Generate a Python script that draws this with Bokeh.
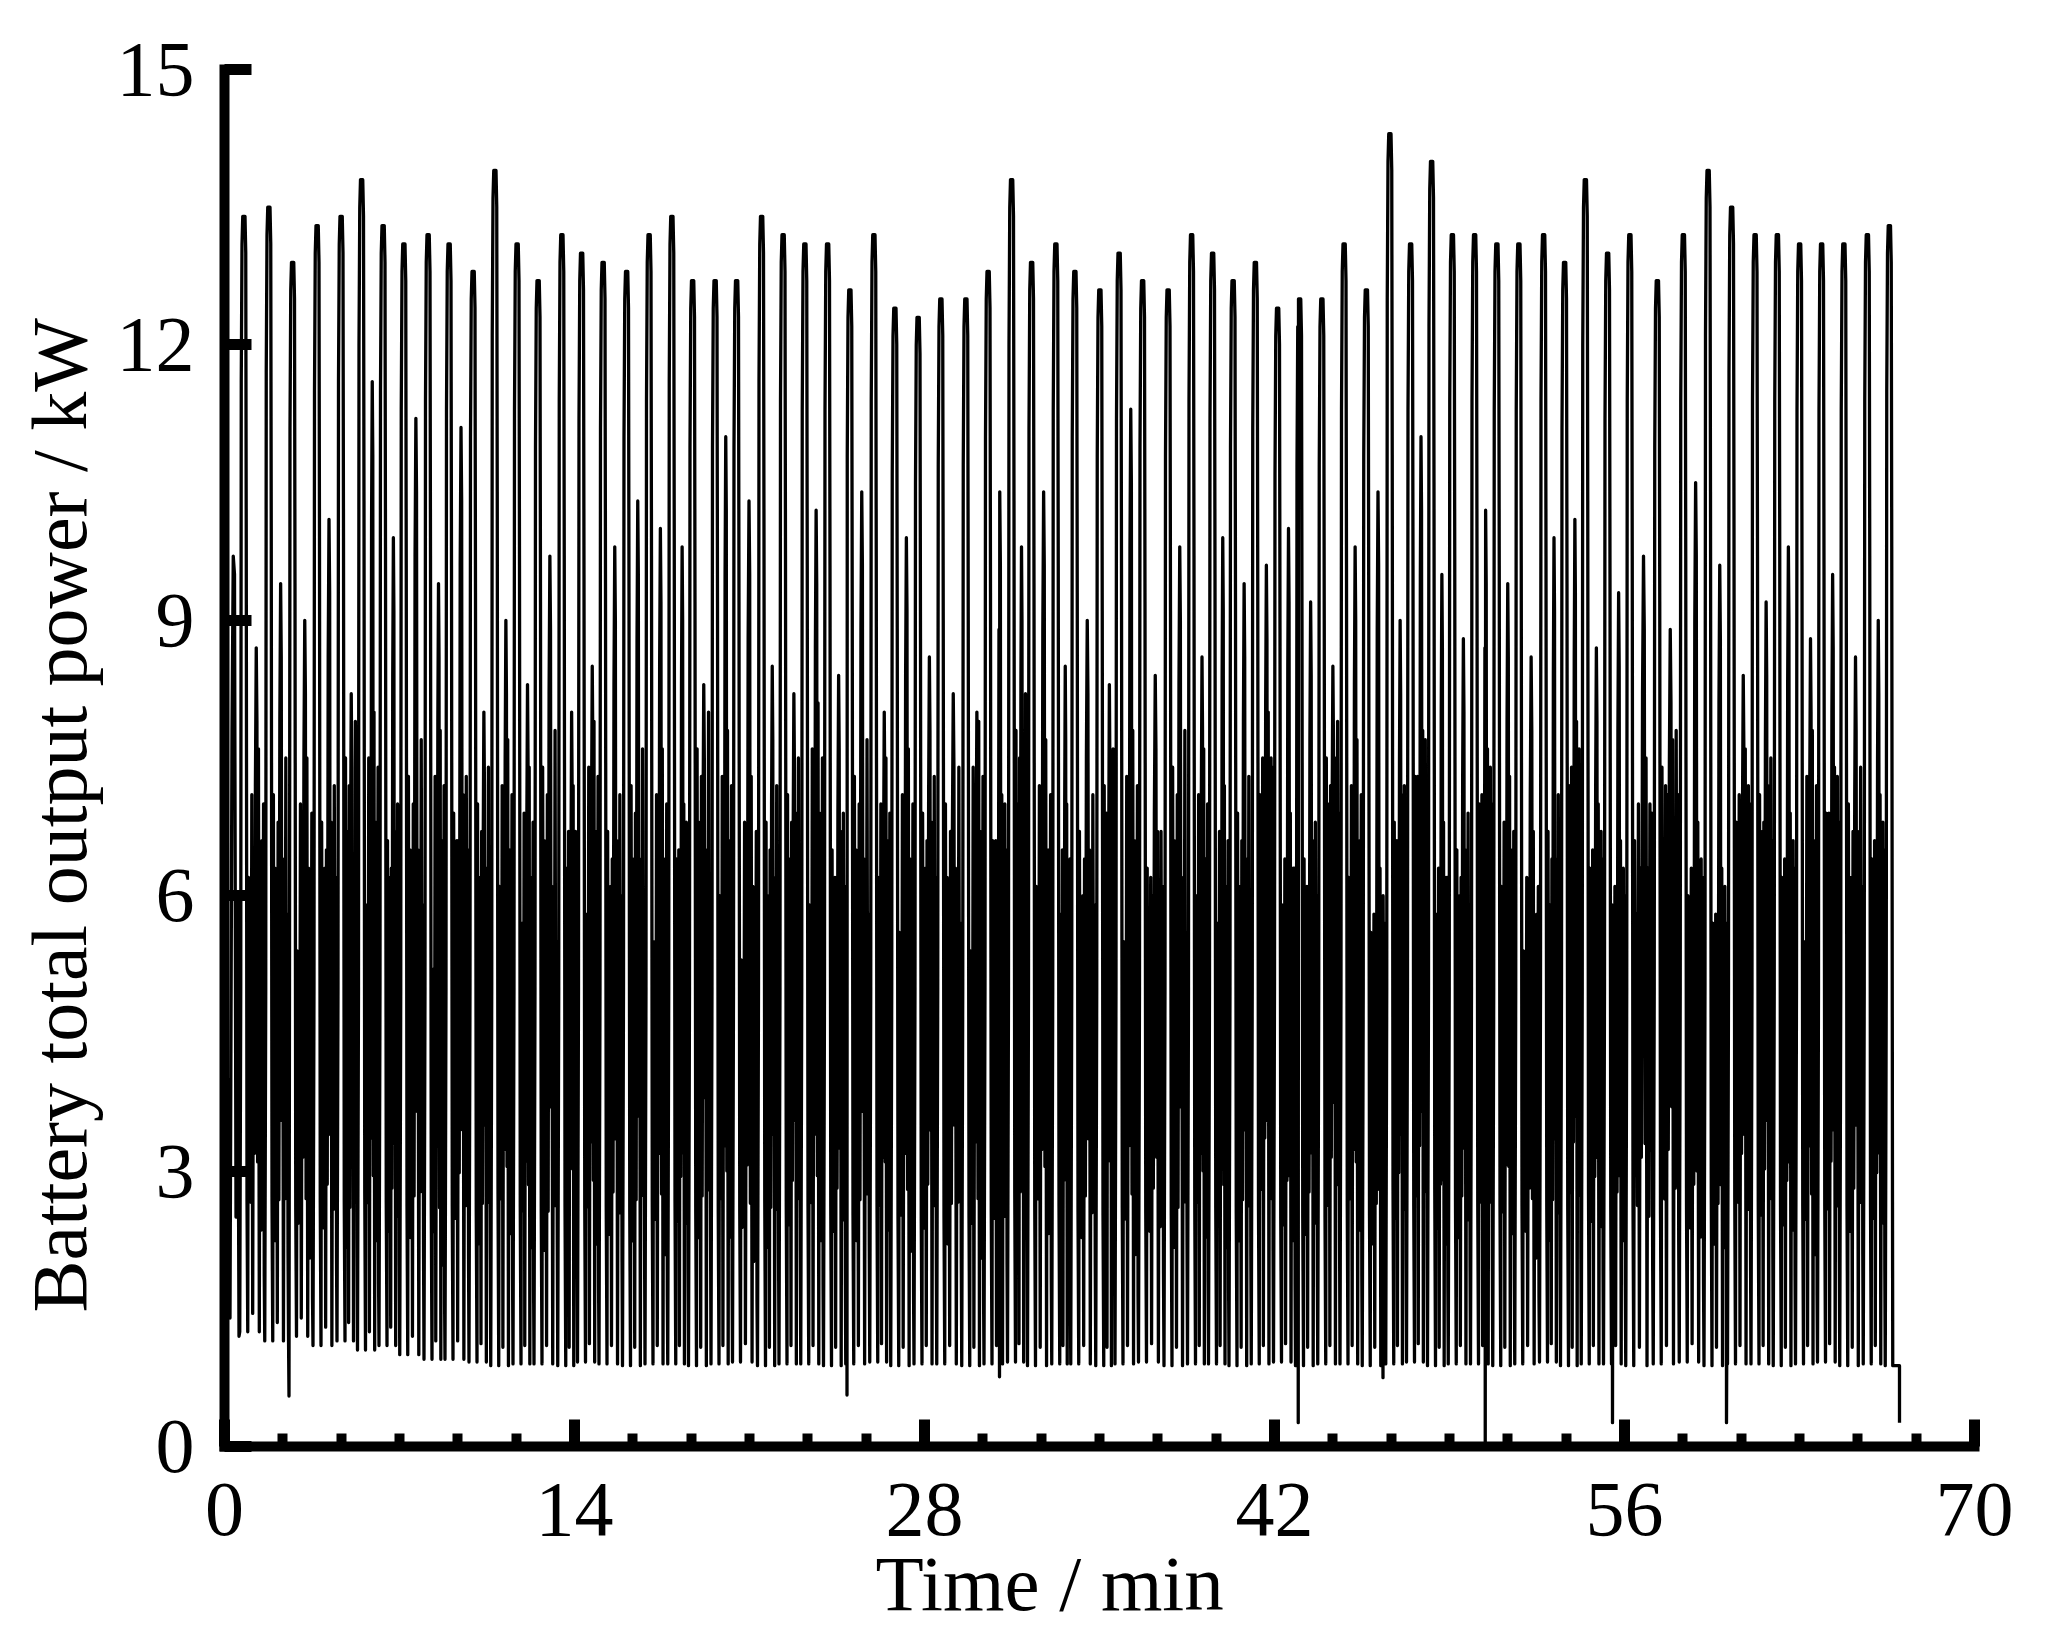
from bokeh.plotting import figure
from bokeh.models import Range1d, FixedTicker, Title
from bokeh.embed import file_html
from bokeh.resources import INLINE

# ---------------- data ----------------
# times (min) and heights (kW) of the tall power peaks
peak_time = [0.78, 1.78, 2.73, 3.71, 4.67, 5.49, 6.35, 7.18, 8.15, 8.99,
             9.95, 10.82, 11.71, 12.55, 13.50, 14.29, 15.15, 16.09, 16.99, 17.90,
             18.73, 19.63, 20.49, 21.49, 22.35, 23.22, 24.13, 25.02, 25.98, 26.82,
             27.75, 28.66, 29.66, 30.55, 31.49, 32.29, 33.26, 34.02, 35.02, 35.79,
             36.73, 37.75, 38.69, 39.53, 40.35, 41.24, 42.13, 43.01, 43.90, 44.79,
             45.68, 46.62, 47.45, 48.29, 49.12, 50.01, 50.90, 51.78, 52.77, 53.61,
             54.44, 55.33, 56.22, 57.32, 58.36, 59.35, 60.29, 61.23, 62.12, 63.01,
             63.89, 64.78, 65.72, 66.60]
peak_kw = [13.4, 13.5, 12.9, 13.3, 13.4, 13.8, 13.3, 13.1, 13.2, 13.1,
           12.8, 13.9, 13.1, 12.7, 13.2, 13.0, 12.9, 12.8, 13.2, 13.4,
           12.7, 12.7, 12.7, 13.4, 13.2, 13.1, 13.1, 12.6, 13.2, 12.4,
           12.3, 12.5, 12.5, 12.8, 13.8, 12.9, 13.1, 12.8, 12.6, 13.0,
           12.7, 12.6, 13.2, 13.0, 12.7, 12.9, 12.4, 12.5, 12.5, 13.1,
           12.6, 14.3, 13.1, 14.0, 13.2, 13.2, 13.1, 13.1, 13.2, 12.9,
           13.8, 13.0, 13.2, 12.7, 13.2, 13.9, 13.5, 13.2, 13.2, 13.1,
           13.1, 13.1, 13.2, 13.3]
# secondary peak that follows each tall peak (kW)
second_kw = [8.7, 9.4, 9.0, 10.1, 8.2, 11.6, 9.9, 11.2, 9.4, 11.1,
             8.0, 9.0, 8.3, 9.7, 8.0, 8.5, 9.8, 10.3, 10.0, 9.8,
             8.3, 11.0, 10.3, 8.5, 8.2, 10.2, 8.4, 10.4, 8.0, 9.9,
             8.6, 8.2, 8.0, 10.4, 9.8, 10.4, 8.5, 9.0, 8.3, 11.3,
             8.4, 9.8, 8.6, 9.9, 9.4, 9.6, 10.0, 9.2, 8.5, 9.8,
             10.4, 9.0, 11.0, 9.5, 8.8, 10.2, 9.4, 8.6, 9.9, 10.1,
             8.7, 9.3, 9.7, 8.9, 10.5, 9.6, 8.4, 9.2, 9.8, 8.8,
             9.5, 8.6, 9.0]
# lower spikes in each cycle (kW)
spike_a_kw = [6.2, 7.1, 5.4, 6.8, 7.5, 5.9, 6.6, 7.3, 5.2, 6.9,
              7.0, 6.1, 5.7, 7.4, 6.3, 5.8, 6.7, 7.2, 5.5, 6.4,
              7.6, 6.0, 5.3, 6.8, 7.1, 5.9, 6.5, 7.3, 6.2, 5.6,
              6.9, 7.0, 5.4, 6.6, 7.8, 6.1, 5.8, 6.7, 7.2, 5.5,
              6.3, 7.4, 6.0, 5.7, 6.9, 7.1, 5.9, 6.4, 7.5, 6.2,
              5.6, 6.8, 7.3, 5.8, 6.5, 7.0, 6.1, 5.4, 6.7, 7.2,
              6.3, 5.9, 6.6, 7.4, 6.0, 5.7, 6.8, 7.1, 6.2, 5.5,
              6.9, 7.0, 6.4]
spike_c_kw = [7.6, 6.4, 7.5, 6.8, 6.2, 8.0, 6.7, 6.5, 7.8, 7.1,
              6.3, 7.7, 7.4, 6.1, 7.2, 7.9, 6.6, 6.4, 7.6, 7.0,
              6.5, 7.8, 7.3, 6.2, 6.9, 8.1, 6.7, 6.4, 7.5, 7.6,
              6.8, 6.3, 7.9, 7.1, 6.6, 7.7, 7.0, 6.5, 7.4, 7.8,
              6.7, 6.2, 7.6, 7.2, 6.4, 8.0, 6.9, 6.6, 7.5, 7.7,
              6.3, 7.1, 7.8, 6.8, 6.5, 7.6, 7.3, 6.7, 6.4, 7.9,
              7.0, 6.6, 7.5, 7.7, 6.8, 6.3, 7.6, 7.2, 6.9, 7.8,
              7.4, 6.7, 7.1]
# trough level of each cycle (kW)
trough_kw = [1.25, 1.15, 1.20, 1.10, 1.15, 1.05, 1.10, 1.00, 0.95, 0.95,
             0.92, 0.88, 0.90, 0.90, 0.88, 0.92, 0.90, 0.88, 0.90, 0.90,
             0.88, 0.90, 0.92, 0.88, 0.90, 0.90, 0.88, 0.90, 0.92, 0.88,
             0.90, 0.90, 0.88, 0.90, 0.92, 0.88, 0.90, 0.90, 0.88, 0.90,
             0.92, 0.88, 0.90, 0.90, 0.88, 0.90, 0.92, 0.88, 0.90, 0.90,
             0.88, 0.90, 0.92, 0.88, 0.90, 0.90, 0.88, 0.90, 0.92, 0.88,
             0.90, 0.90, 0.88, 0.90, 0.92, 0.88, 0.90, 0.90, 0.88, 0.90,
             0.92, 0.88, 0.90, 0.88]
# start of the record
start_time = [0.00, 0.04, 0.10, 0.16, 0.22, 0.30, 0.35, 0.40, 0.46, 0.52, 0.58]
start_kw = [1.24, 5.2, 1.3, 4.0, 1.4, 7.8, 9.7, 9.5, 2.5, 6.0, 1.2]
# short downward dips
dip_time = [2.58, 24.90, 31.00, 42.95, 46.34, 50.43, 55.52, 60.08]
dip_kw = [0.55, 0.56, 0.76, 0.26, 0.75, 0.00, 0.26, 0.26]
# end of the record
end_time = [66.73, 67.00, 67.00]
end_kw = [0.88, 0.88, 0.26]

x_ticks = [0, 14, 28, 42, 56, 70]
y_ticks = [0, 3, 6, 9, 12, 15]

# ---------------- build the trace ----------------
pts = list(zip(start_time, start_kw))
n = len(peak_time)
for i in range(n):
    tp, pk, tr = peak_time[i], peak_kw[i], trough_kw[i]
    pts += [(tp - 0.17, tr), (tp - 0.13, 5.0), (tp - 0.11, pk - 1.8), (tp - 0.08, pk - 0.3),
            (tp - 0.05, pk), (tp + 0.04, pk), (tp + 0.07, pk - 0.4), (tp + 0.09, pk - 3.5),
            (tp + 0.12, 0.2 * pk), (tp + 0.15, tr)]
    if i < n - 1:
        L = peak_time[i + 1] - tp - 0.32
        a, b, c = spike_a_kw[i], second_kw[i], spike_c_kw[i]
        mid = [(0.04, a), (0.09, 0.45 * a), (0.14, a - 0.8), (0.19, 0.35 * c), (0.24, c - 0.5),
               (0.29, tr + 0.2), (0.34, a - 0.3), (0.39, 0.42 * c), (0.45, b - 1.5), (0.50, b),
               (0.54, b - 0.8), (0.58, 0.5 * a), (0.63, c), (0.68, tr), (0.73, c - 1.2),
               (0.78, 0.38 * a), (0.83, a + 0.4), (0.88, 0.43 * c), (0.93, c - 0.6), (0.97, 0.3 * a)]
        pts += [(tp + 0.15 + u * L, v) for u, v in mid]
pts += list(zip(end_time, end_kw))
pts += list(zip(dip_time, dip_kw))
pts.sort(key=lambda q: q[0])
t_vals = [q[0] for q in pts]
p_vals = [q[1] for q in pts]

# ---------------- figure ----------------
W, H = 2038, 1636
p = figure(width=W, height=H, output_backend="svg", toolbar_location=None,
           x_range=Range1d(0, 70), y_range=Range1d(0, 15),
           min_border_left=224, min_border_right=64, min_border_top=69, min_border_bottom=190)
p.outline_line_color = None
p.xgrid.visible = False
p.ygrid.visible = False
p.background_fill_color = "white"
p.border_fill_color = "white"

p.line(t_vals, p_vals, line_color="black", line_width=3.3, line_join="round")

FONT = "Liberation Serif"
minor_x = [k * 14 / 6 for k in range(1, 30) if k % 6 != 0]
p.xaxis.ticker = FixedTicker(ticks=x_ticks, minor_ticks=minor_x)
p.yaxis.ticker = FixedTicker(ticks=y_ticks, minor_ticks=[])
for ax in (p.xaxis[0], p.yaxis[0]):
    ax.axis_line_width = 10
    ax.axis_line_color = "black"
    ax.axis_line_cap = "square"
    ax.major_tick_in = 27
    ax.major_tick_out = 0
    ax.major_tick_line_width = 11
    ax.major_tick_line_color = "black"
    ax.minor_tick_in = 13
    ax.minor_tick_out = 0
    ax.minor_tick_line_width = 10
    ax.minor_tick_line_color = "black"
    ax.major_label_text_font = FONT
    ax.major_label_text_font_size = "78px"
    ax.major_label_text_color = "black"
p.xaxis.major_label_standoff = 37
p.yaxis.major_label_standoff = 30

p.add_layout(Title(text="Time / min", align="left", offset=651, standoff=0,
                   text_font=FONT, text_font_size="79px", text_font_style="normal",
                   text_color="black"), "below")
p.add_layout(Title(text="Battery total output power / kW", align="left", offset=134, standoff=21,
                   text_font=FONT, text_font_size="78px", text_font_style="normal",
                   text_color="black"), "left")

open("out.html", "w").write(file_html(p, INLINE))
